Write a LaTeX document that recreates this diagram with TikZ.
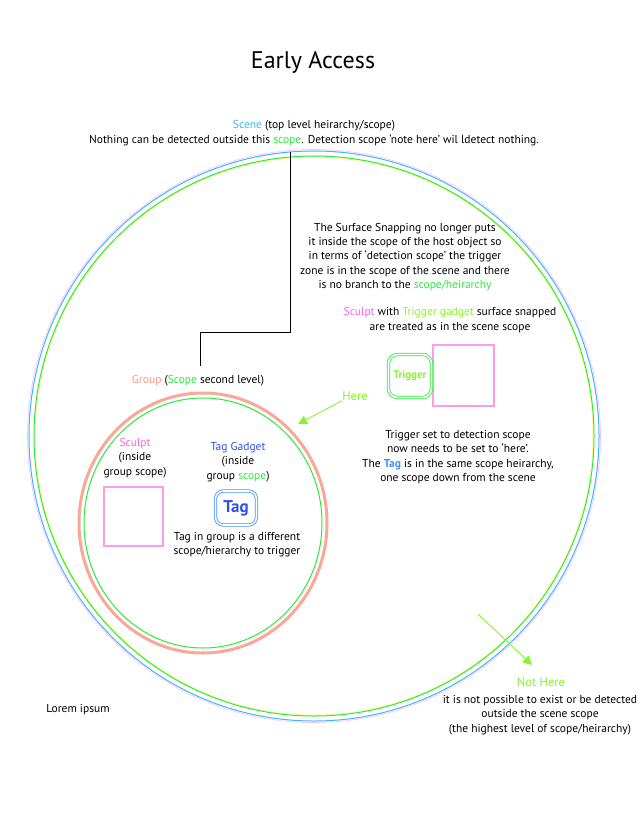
\documentclass[tikz,border=0pt]{standalone}
\usepackage{fontspec}
\setmainfont{PT Sans}
\usetikzlibrary{arrows.meta, positioning}
\definecolor{sceneblue}{HTML}{3DB5FF}
\definecolor{scopegreen}{HTML}{2BEA3C}
\definecolor{heregreen}{HTML}{86F52A}
\definecolor{sculptpink}{HTML}{FF5FE8}
\definecolor{boxpink}{HTML}{FF9BEF}
\definecolor{groupsalmon}{HTML}{F9A898}
\definecolor{tagblue}{HTML}{2F4FEA}
\definecolor{tagframe}{HTML}{3F8FFF}

\begin{document}
\begin{tikzpicture}[x=1pt, y=-1pt, font=\fontsize{11.5}{14.2}\selectfont,
    note/.style={align=center, inner sep=0pt, font=\fontsize{11.5}{14.2}\selectfont},
    ring/.style={line width=1pt},
    sculptbox/.style={rectangle, draw=boxpink, line width=2pt, minimum size=59pt, inner sep=0pt},
    gadget/.style={rectangle, rounded corners=9pt, line width=0.8pt, double=white,
      double distance=1.6pt, inner sep=0pt, font=\bfseries},
    pointer/.style={heregreen, line width=0.9pt, -{Triangle[length=9pt, width=9pt]}}]
  \useasboundingbox (0,0) rectangle (643,834);

  % title
  \node (title) at (313,62) {\fontsize{24}{28}\selectfont Early Access};

  % scene scope (outer ring)
  \draw[sculptpink!40, line width=0.6pt] (314,436) circle[radius=286.5pt];
  \draw[sceneblue, ring] (314,436) circle[radius=285pt];
  \draw[yellow!60, line width=0.6pt] (314,436) circle[radius=279pt];
  \draw[scopegreen, ring] (314,436) circle[radius=280pt];

  \node[note] (scene) at (314,126) {\textcolor{sceneblue}{Scene} (top level heirarchy/scope)};
  \node[note] (nothing) at (314,140) {Nothing can be detected outside this \textcolor{scopegreen}{scope}. Detection scope ‘note here’ wil ldetect nothing.};

  \node[note] (snapping) at (405,257) {The Surface Snapping no longer puts\\
    it inside the scope of the host object so\\
    in terms of ‘detection scope’ the trigger\\
    zone is in the scope of the scene and there\\
    is no branch to the \textcolor{scopegreen}{scope/heirarchy}};

  \node[note] (snapped) at (450,320) {\textcolor{sculptpink}{Sculpt} with \textcolor{heregreen}{Trigger gadget} surface snapped\\
    are treated as in the scene scope};

  % trigger gadget snapped on a sculpt
  \node[sculptbox, minimum size=61pt] (hostsculpt) at (463,375) {};
  \node[gadget, draw=scopegreen, minimum size=43pt, text=heregreen] (trigger) at (410,376)
    {\fontsize{11}{12}\selectfont Trigger};

  \node[note] (detect) at (458,457) {Trigger set to detection scope\\
    now needs to be set to ‘here’.\\
    The \textcolor{tagframe}{\bfseries Tag} is in the same scope heirarchy,\\
    one scope down from the scene};

  % group scope (inner ring)
  \draw[groupsalmon, line width=3pt] (203,523) ellipse[x radius=124pt, y radius=130pt];
  \draw[scopegreen, ring] (203,523) ellipse[x radius=119pt, y radius=125pt];

  \node[note] (group) at (198,381) {\textcolor{groupsalmon!90!red}{Group} (\textcolor{scopegreen}{Scope} second level)};

  \node[note] (sculptlbl) at (135,458) {\textcolor{sculptpink}{Sculpt}\\(inside\\group scope)};
  \node[sculptbox] (sculpt) at (133,516) {};

  \node[note] (taglbl) at (238,462) {\textcolor{tagblue}{Tag Gadget}\\(inside\\group \textcolor{scopegreen}{scope})};
  \node[gadget, draw=tagframe, rounded corners=8pt, minimum width=41pt, minimum height=34pt,
    text=tagblue] (tag) at (236,508) {\fontsize{17}{18}\selectfont Tag};
  \node[note] (tagnote) at (237,545) {Tag in group is a different\\scope/hierarchy to trigger};

  % link from the scene down to the group
  \coordinate (scenetop) at (290,152);
  \coordinate (elbow) at (200,332);
  \draw[line width=0.8pt] (scenetop) |- (elbow) -- (elbow |- group.north) [shorten >=9pt];

  % here / not here
  \node[note, text=heregreen, font=\fontsize{12.5}{14}\selectfont] (here) at (355,396) {Here};
  \coordinate (heretip) at (298,424);
  \draw[pointer] (here.south west) -- (heretip);

  \coordinate (outside) at (478,614);
  \coordinate (nothere tip) at (532,665);
  \draw[pointer] (outside) -- (nothere tip);
  \node[note, text=heregreen, font=\fontsize{12.5}{14}\selectfont] (nothere) at (541,682) {Not Here};
  \node[note] (impossible) at (540,715) {it is not possible to exist or be detected\\
    outside the scene scope\\
    (the highest level of scope/heirarchy)};

  \node[note] (lorem) at (78,710) {Lorem ipsum};
\end{tikzpicture}
\end{document}
